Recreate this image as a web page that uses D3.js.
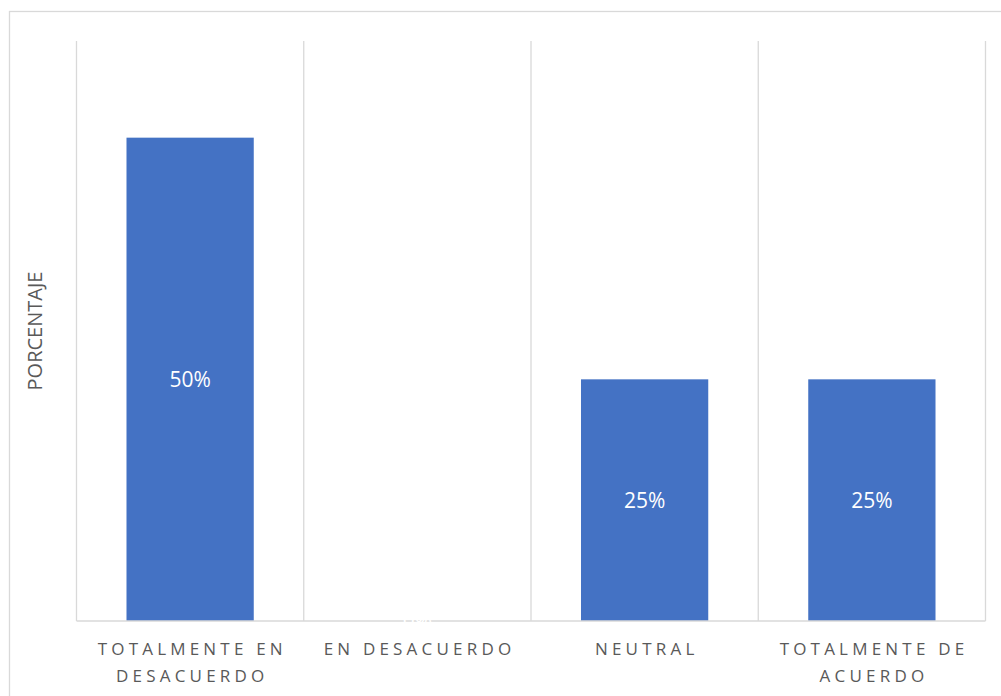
<!DOCTYPE html>
<html>
<head>
<meta charset="utf-8">
<script src="https://cdn.jsdelivr.net/npm/d3@7/dist/d3.min.js"></script>
<style>
  html, body { margin: 0; padding: 0; background: #fff; }
  svg { display: block; }
</style>
</head>
<body>
<svg id="chart" width="1001" height="696"></svg>
<script>
// Response categories, one line array per axis label
const categories = ["TOTALMENTE EN DESACUERDO", "EN DESACUERDO", "NEUTRAL", "TOTALMENTE DE ACUERDO"];
const categoryLines = [["TOTALMENTE EN", "DESACUERDO"], ["EN DESACUERDO"], ["NEUTRAL"], ["TOTALMENTE DE", "ACUERDO"]];
const percentages = [0.50, 0.00, 0.25, 0.25];
const yTitle = "PORCENTAJE";

const svg = d3.select("#chart");
const W = 1001, H = 696;
const margin = { left: 76.5, right: 15.5, top: 41, bottom: 75 };

// outer chart frame
svg.append("rect")
  .attr("x", 9.5).attr("y", 11.5)
  .attr("width", 1000).attr("height", 687)
  .attr("fill", "#fff").attr("stroke", "#d9d9d9").attr("stroke-width", 1.3);

const x = d3.scaleBand()
  .domain(categories)
  .range([margin.left, W - margin.right])
  .paddingInner(0.44).paddingOuter(0.22);

const y = d3.scaleLinear().domain([0, 0.6]).range([H - margin.bottom, margin.top]);

// vertical separators between categories
const edges = d3.range(categories.length + 1).map(i => margin.left + i * ((W - margin.right - margin.left) / categories.length));
svg.append("g").selectAll("line").data(edges).join("line")
  .attr("x1", d => d).attr("x2", d => d)
  .attr("y1", y(0.6)).attr("y2", y(0))
  .attr("stroke", "#d9d9d9").attr("stroke-width", 1.3);

// bars
svg.append("g").selectAll("rect").data(categories).join("rect")
  .attr("x", d => x(d))
  .attr("y", (d, i) => y(percentages[i]))
  .attr("width", x.bandwidth())
  .attr("height", (d, i) => y(0) - y(percentages[i]))
  .attr("fill", "#4472c4");

// baseline
svg.append("line")
  .attr("x1", margin.left).attr("x2", W - margin.right)
  .attr("y1", y(0)).attr("y2", y(0))
  .attr("stroke", "#d9d9d9").attr("stroke-width", 1.3);

// value labels, centred in each bar
svg.append("g").selectAll("text").data(categories).join("text")
  .attr("x", d => x(d) + x.bandwidth() / 2)
  .attr("y", (d, i) => (y(percentages[i]) + y(0)) / 2)
  .attr("dy", "0.35em")
  .attr("text-anchor", "middle")
  .attr("font-family", "'Open Sans', sans-serif")
  .attr("font-size", 21)
  .attr("fill", "#ffffff")
  .text((d, i) => d3.format(".0%")(percentages[i]));

// category axis labels
const ls = 4.2;
const xAxis = d3.axisBottom(x).tickSize(0).tickFormat("");
const gx = svg.append("g").attr("transform", `translate(0,${y(0)})`).call(xAxis);
gx.select(".domain").remove();
gx.selectAll(".tick").each(function (d, i) {
  const t = d3.select(this).append("text")
    .attr("text-anchor", "middle")
    .attr("font-family", "'Open Sans', sans-serif")
    .attr("font-size", 17)
    .attr("letter-spacing", ls + "px")
    .attr("fill", "#595959");
  categoryLines[i].forEach((line, j) => {
    t.append("tspan").attr("x", ls / 2).attr("y", 34 + j * 27).text(line);
  });
});

// y axis title
svg.append("text")
  .attr("transform", `translate(42,${(y(0) + y(0.6)) / 2}) rotate(-90)`)
  .attr("text-anchor", "middle")
  .attr("font-family", "'Open Sans', sans-serif")
  .attr("font-size", 20)
  .attr("fill", "#595959")
  .text(yTitle);
</script>
</body>
</html>
